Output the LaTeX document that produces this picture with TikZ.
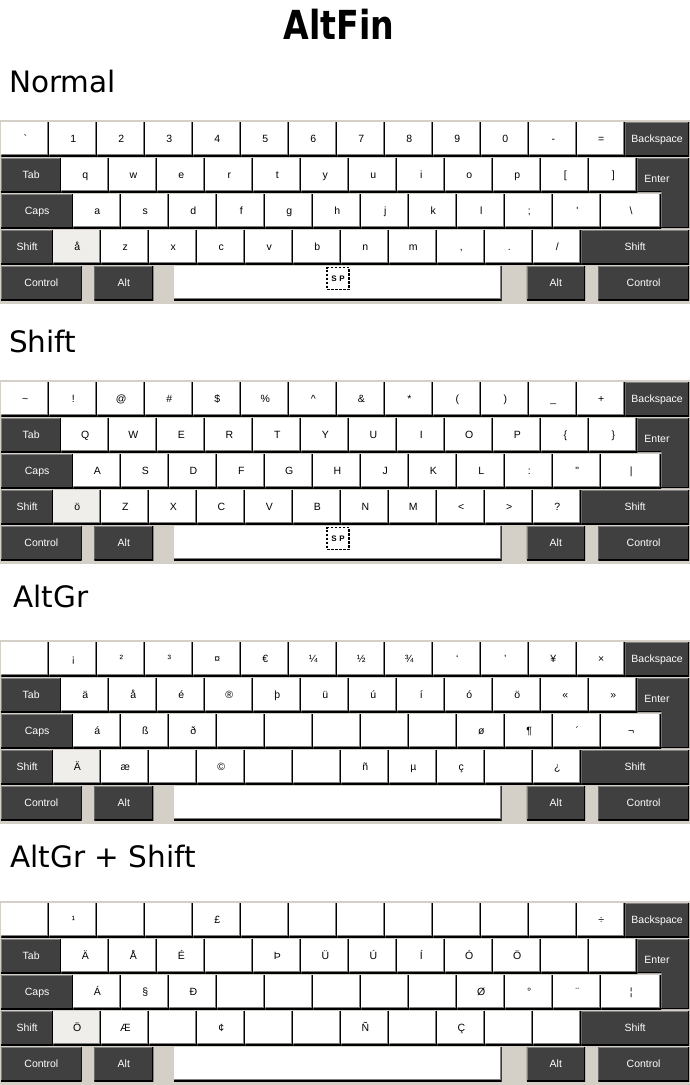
\documentclass[tikz,border=0pt]{standalone}
\usepackage{fontspec}
\setmainfont{DejaVu Sans}
\newfontfamily\keyfont{Liberation Sans}
\newfontfamily\titlefont[FakeStretch=0.83]{DejaVu Sans Bold}
\definecolor{kbbg}{HTML}{D4D0C8}
\definecolor{darkkey}{HTML}{404040}
\definecolor{keygrey}{HTML}{808080}
\definecolor{hlkey}{HTML}{EFEEEA}
\tikzset{
  keybase/.style={rectangle, inner sep=0pt, outer sep=0pt, minimum height=34pt,
    text height=7.6pt, text depth=0pt,
    anchor=north west, font=\keyfont\fontsize{10.5}{12}\selectfont},
  wkey/.style={keybase, fill=white, text=black, path picture={
    \draw[line width=4pt, keygrey] (path picture bounding box.north east) -- (path picture bounding box.south east) -- (path picture bounding box.south west);
    \draw[line width=2pt, black] (path picture bounding box.north east) -- (path picture bounding box.south east) -- (path picture bounding box.south west);
  }},
  dkey/.style={keybase, fill=darkkey, text=white, path picture={
    \draw[line width=2pt, keygrey] (path picture bounding box.south west) -- (path picture bounding box.north west) -- (path picture bounding box.north east);
    \draw[line width=2pt, black] (path picture bounding box.north east) -- (path picture bounding box.south east) -- (path picture bounding box.south west);
  }},
  seclabel/.style={anchor=base west, inner sep=0pt, font=\fontsize{29.5}{35}\selectfont},
  spbox/.style={draw=black, dash pattern=on 2.5pt off 1.5pt, line width=1.2pt,
    minimum width=22pt, minimum height=22pt, inner sep=0pt,
    text height=6pt, text depth=0pt,
    font=\keyfont\bfseries\fontsize{8}{9}\selectfont},
  enterlabel/.style={text=white, inner sep=0pt, text height=7.6pt, text depth=0pt,
    font=\keyfont\fontsize{10.5}{12}\selectfont}
}
\newcommand{\drawkeyboard}[7]{%
  \fill[kbbg] (0,#2) rectangle (690,#2+184);
  % row 1
  \foreach \lab [count=\i from 0] in {#3} {
    \node[wkey, minimum width=48pt] (#1-a\i) at ({1.3+48*\i},#2+2) {\lab};
  }
  \node[dkey, minimum width=63.7pt] (#1-bksp) at (625.3,#2+2) {Backspace};
  % row 2
  \node[dkey, minimum width=60.3pt] (#1-tab) at (1,#2+38) {Tab};
  \foreach \lab [count=\i from 0] in {#4} {
    \node[wkey, minimum width=48pt] (#1-b\i) at ({61.3+48*\i},#2+38) {\lab};
  }
  % enter
  \begin{scope}
    \clip (637.3,#2+38) -- (689,#2+38) -- (689,#2+108) -- (661,#2+108) -- (661,#2+72) -- (637.3,#2+72) -- cycle;
    \fill[darkkey] (637.3,#2+38) rectangle (689,#2+108);
    \draw[keygrey, line width=2pt] (637.3,#2+72) -- (637.3,#2+38) -- (689,#2+38);
    \draw[keygrey, line width=2pt] (661,#2+72) -- (661,#2+108);
    \draw[black, line width=2pt] (689,#2+38) -- (689,#2+108) -- (661,#2+108);
    \draw[black, line width=2pt] (637.3,#2+72) -- (661,#2+72);
  \end{scope}
  \node[enterlabel] (#1-enter) at (657,#2+59) {Enter};
  % row 3
  \node[dkey, minimum width=72.3pt] (#1-caps) at (1,#2+74) {Caps};
  \foreach \lab [count=\i from 0] in {#5} {
    \pgfmathsetmacro{\w}{\i==11 ? 59.7 : 48}
    \node[wkey, minimum width=\w pt] (#1-c\i) at ({73.3+48*\i},#2+74) {\lab};
  }
  % row 4
  \node[dkey, minimum width=52.3pt] (#1-lshift) at (1,#2+110) {Shift};
  \foreach \lab [count=\i from 0] in {#6} {
    \ifnum\i=0 \def\kf{hlkey}\else\def\kf{white}\fi
    \node[wkey, fill=\kf, minimum width=48pt] (#1-d\i) at ({53.3+48*\i},#2+110) {\lab};
  }
  \node[dkey, minimum width=107.7pt] (#1-rshift) at (581.3,#2+110) {Shift};
  % row 5
  \node[dkey, minimum width=80.7pt] (#1-lctrl) at (1,#2+146) {Control};
  \node[dkey, minimum width=59pt] (#1-lalt) at (94.3,#2+146) {Alt};
  \node[wkey, minimum width=327.7pt] (#1-space) at (174,#2+146) {};
  \node[dkey, minimum width=58.3pt] (#1-ralt) at (526.7,#2+146) {Alt};
  \node[dkey, minimum width=90.7pt] (#1-rctrl) at (598.3,#2+146) {Control};
  \def\sptext{#7}%
  \ifx\sptext\empty\else
    \node[spbox] (#1-sp) at (338,#2+158.5) {#7};
  \fi
}
\begin{document}
\begin{tikzpicture}[x=1pt,y=-1pt]
\useasboundingbox (0,0) rectangle (690,1085);
\fill[white] (0,0) rectangle (690,1085);
\node[font=\titlefont\fontsize{40}{48}\selectfont, anchor=base, inner sep=0pt] (title) at (339,39) {AltFin};

\node[seclabel] (lnormal) at (9,92) {Normal};
\drawkeyboard{kn}{120}
  {\textasciigrave,1,2,3,4,5,6,7,8,9,0,-,=}
  {q,w,e,r,t,y,u,i,o,p,{[},{]}}
  {a,s,d,f,g,h,j,k,l,;,\textquotesingle,\textbackslash}
  {å,z,x,c,v,b,n,m,{,},.,/}
  {S\,\,P}

\node[seclabel] (lshift) at (9,352) {Shift};
\drawkeyboard{ks}{380}
  {\textasciitilde,!,@,\#,\$,\%,\textasciicircum,\&,*,{(},{)},\_,+}
  {Q,W,E,R,T,Y,U,I,O,P,\{,\}}
  {A,S,D,F,G,H,J,K,L,:,\textquotedbl,\textbar}
  {ö,Z,X,C,V,B,N,M,\textless,\textgreater,?}
  {S\,\,P}

\node[seclabel] (laltgr) at (13,607) {AltGr};
\drawkeyboard{ka}{640}
  {{},¡,²,³,¤,€,¼,½,¾,‘,’,¥,×}
  {ä,å,é,®,þ,ü,ú,í,ó,ö,«,»}
  {á,ß,ð,{},{},{},{},{},ø,¶,´,¬}
  {Ä,æ,{},©,{},{},ñ,µ,ç,{},¿}
  {}

\node[seclabel] (laltgrshift) at (10,867) {AltGr + Shift};
\drawkeyboard{kas}{901}
  {{},¹,{},{},£,{},{},{},{},{},{},{},÷}
  {Ä,Å,É,{},Þ,Ü,Ú,Í,Ó,Ö,{},{}}
  {Á,§,Ð,{},{},{},{},{},Ø,°,¨,¦}
  {Ö,Æ,{},¢,{},{},Ñ,{},Ç,{},{}}
  {}
\end{tikzpicture}
\end{document}
